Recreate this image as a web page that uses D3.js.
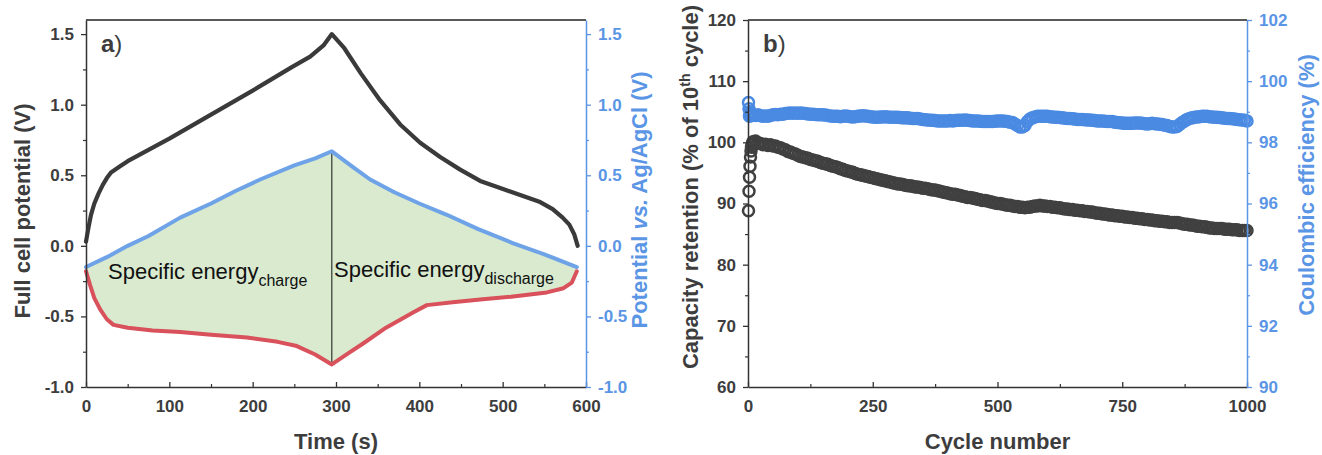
<!DOCTYPE html>
<html>
<head>
<meta charset="utf-8">
<script src="https://cdn.jsdelivr.net/npm/d3@7"></script>
<style>
  body { margin: 0; background: #fff; }
  text { font-family: "Liberation Sans", Arial, Helvetica, sans-serif; }
</style>
</head>
<body>
<svg id="chart" width="1322" height="455"></svg>
<script>
// ---------- Panel a: charge / discharge potential profiles ----------
const timeFull = [0, 3, 6, 10, 15, 20, 25, 30, 40, 50, 75, 100, 150, 200, 248, 269, 285, 295,
                  310, 330, 353, 377, 401, 425, 449, 473, 497, 521, 545, 560, 572, 580, 586, 590];
const vFull    = [0.03, 0.13, 0.22, 0.30, 0.37, 0.43, 0.48, 0.52, 0.56, 0.60, 0.68, 0.76, 0.93, 1.10, 1.27, 1.34, 1.42, 1.50,
                  1.40, 1.22, 1.03, 0.86, 0.73, 0.63, 0.54, 0.46, 0.41, 0.36, 0.31, 0.26, 0.20, 0.15, 0.08, 0.00];

const timePos = [0, 25, 50, 75, 113, 150, 180, 209, 250, 275, 295, 320, 341, 370, 400, 433, 470, 512, 550, 589];
const vPos    = [-0.15, -0.08, 0.00, 0.07, 0.20, 0.30, 0.39, 0.47, 0.57, 0.62, 0.67, 0.56, 0.47, 0.38, 0.30, 0.22, 0.12, 0.02, -0.06, -0.15];

const timeNeg = [0, 5, 10, 17, 25, 33, 50, 80, 113, 150, 193, 230, 253, 275, 295,
                 315, 333, 360, 393, 409, 440, 473, 510, 553, 573, 583, 589];
const vNeg    = [-0.18, -0.28, -0.37, -0.45, -0.52, -0.56, -0.58, -0.60, -0.61, -0.63, -0.65, -0.68, -0.71, -0.77, -0.84,
                 -0.76, -0.69, -0.58, -0.47, -0.42, -0.40, -0.38, -0.36, -0.33, -0.30, -0.26, -0.18];

const switchTime = 295;
const potTicks = [-1.0, -0.5, 0.0, 0.5, 1.0, 1.5];
const potMinor = [-0.75, -0.25, 0.25, 0.75, 1.25];
const timeTicks = [0, 100, 200, 300, 400, 500, 600];
const timeMinor = [50, 150, 250, 350, 450, 550];

// ---------- Panel b: cycling stability ----------
const cycles = [1, 2, 3, 4, 5, 6, 7, 8, 9,
  10, 15, 20, 25, 30, 35, 40, 45, 50, 55, 60, 65, 70, 75, 80, 85, 90, 95, 100,
  105, 110, 115, 120, 125, 130, 135, 140, 145, 150, 155, 160, 165, 170, 175, 180, 185, 190, 195, 200,
  205, 210, 215, 220, 225, 230, 235, 240, 245, 250, 255, 260, 265, 270, 275, 280, 285, 290, 295, 300,
  305, 310, 315, 320, 325, 330, 335, 340, 345, 350, 355, 360, 365, 370, 375, 380, 385, 390, 395, 400,
  405, 410, 415, 420, 425, 430, 435, 440, 445, 450, 455, 460, 465, 470, 475, 480, 485, 490, 495, 500,
  505, 510, 515, 520, 525, 530, 535, 540, 545, 550, 555, 560, 565, 570, 575, 580, 585, 590, 595, 600,
  605, 610, 615, 620, 625, 630, 635, 640, 645, 650, 655, 660, 665, 670, 675, 680, 685, 690, 695, 700,
  705, 710, 715, 720, 725, 730, 735, 740, 745, 750, 755, 760, 765, 770, 775, 780, 785, 790, 795, 800,
  805, 810, 815, 820, 825, 830, 835, 840, 845, 850, 855, 860, 865, 870, 875, 880, 885, 890, 895, 900,
  905, 910, 915, 920, 925, 930, 935, 940, 945, 950, 955, 960, 965, 970, 975, 980, 985, 990, 995, 1000];

const retention = [88.8, 92.0, 94.3, 96.1, 97.6, 98.6, 99.2, 99.6, 99.9,
  100.1, 100.2, 99.9, 99.8, 99.6, 99.7, 99.5, 99.6, 99.4, 99.4, 99.2, 99.1, 98.9, 98.8, 98.5, 98.4, 98.2, 98.1, 97.9,
  97.7, 97.6, 97.5, 97.4, 97.2, 97.1, 97.0, 96.9, 96.7, 96.6, 96.5, 96.4, 96.2, 96.1, 96.0, 95.9, 95.7, 95.6, 95.4, 95.3,
  95.2, 95.1, 94.9, 94.8, 94.7, 94.6, 94.5, 94.4, 94.3, 94.2, 94.1, 94.0, 93.9, 93.8, 93.7, 93.6, 93.5, 93.4, 93.3, 93.2,
  93.2, 93.1, 93.0, 92.9, 92.9, 92.8, 92.7, 92.7, 92.6, 92.5, 92.5, 92.4, 92.3, 92.2, 92.2, 92.1, 92.0, 91.9, 91.8, 91.7,
  91.6, 91.5, 91.5, 91.4, 91.3, 91.2, 91.1, 91.0, 91.0, 90.9, 90.8, 90.7, 90.6, 90.5, 90.5, 90.4, 90.3, 90.2, 90.1, 90.0,
  90.0, 89.9, 89.8, 89.7, 89.7, 89.6, 89.5, 89.5, 89.4, 89.4, 89.3, 89.4, 89.4, 89.5, 89.6, 89.6, 89.7, 89.6, 89.6, 89.5,
  89.5, 89.4, 89.4, 89.3, 89.3, 89.2, 89.1, 89.1, 89.0, 89.0, 88.9, 88.9, 88.8, 88.8, 88.7, 88.7, 88.6, 88.6, 88.5, 88.4,
  88.4, 88.3, 88.3, 88.2, 88.1, 88.1, 88.0, 88.0, 87.9, 87.9, 87.8, 87.8, 87.7, 87.7, 87.6, 87.6, 87.5, 87.5, 87.4, 87.4,
  87.3, 87.3, 87.2, 87.2, 87.1, 87.1, 87.0, 87.0, 86.9, 86.9, 86.9, 86.9, 86.8, 86.7, 86.6, 86.6, 86.5, 86.5, 86.4, 86.3,
  86.3, 86.2, 86.2, 86.1, 86.0, 86.0, 85.9, 85.9, 85.9, 85.9, 85.8, 85.8, 85.8, 85.7, 85.7, 85.7, 85.6, 85.6, 85.6, 85.6];

const efficiency = [99.30, 99.10, 98.85, 99.00, 98.95, 98.90, 98.90, 98.88, 98.90,
  98.90, 98.88, 98.90, 98.87, 98.85, 98.86, 98.85, 98.88, 98.90, 98.91, 98.90, 98.92, 98.92, 98.94, 98.95, 98.96, 98.95, 98.96, 98.95,
  98.96, 98.95, 98.94, 98.93, 98.92, 98.92, 98.91, 98.90, 98.90, 98.90, 98.89, 98.88, 98.86, 98.85, 98.85, 98.85, 98.84, 98.85, 98.86, 98.85,
  98.84, 98.83, 98.84, 98.85, 98.86, 98.87, 98.86, 98.85, 98.84, 98.83, 98.82, 98.82, 98.83, 98.83, 98.84, 98.83, 98.82, 98.82, 98.82, 98.82,
  98.81, 98.80, 98.80, 98.80, 98.79, 98.78, 98.78, 98.78, 98.76, 98.75, 98.74, 98.73, 98.72, 98.72, 98.71, 98.70, 98.70, 98.70, 98.70, 98.70,
  98.71, 98.70, 98.71, 98.72, 98.72, 98.72, 98.73, 98.72, 98.71, 98.70, 98.70, 98.70, 98.69, 98.68, 98.68, 98.68, 98.68, 98.68, 98.69, 98.70,
  98.70, 98.70, 98.69, 98.68, 98.66, 98.65, 98.60, 98.55, 98.50, 98.50, 98.55, 98.68, 98.76, 98.80, 98.83, 98.85, 98.85, 98.85, 98.85, 98.85,
  98.84, 98.83, 98.82, 98.82, 98.81, 98.80, 98.79, 98.78, 98.78, 98.77, 98.76, 98.75, 98.75, 98.75, 98.74, 98.73, 98.73, 98.72, 98.71, 98.70,
  98.70, 98.70, 98.69, 98.68, 98.68, 98.68, 98.66, 98.65, 98.64, 98.63, 98.62, 98.62, 98.62, 98.62, 98.63, 98.63, 98.63, 98.62, 98.61, 98.60,
  98.61, 98.62, 98.61, 98.60, 98.59, 98.58, 98.56, 98.55, 98.52, 98.50, 98.50, 98.52, 98.58, 98.65, 98.70, 98.75, 98.78, 98.80, 98.82, 98.83,
  98.84, 98.85, 98.85, 98.85, 98.84, 98.83, 98.82, 98.82, 98.81, 98.80, 98.79, 98.78, 98.78, 98.77, 98.76, 98.75, 98.74, 98.73, 98.72, 98.70];

const retTicks = [60, 70, 80, 90, 100, 110, 120];
const retMinor = [65, 75, 85, 95, 105, 115];
const ceTicks = [90, 92, 94, 96, 98, 100, 102];
const ceMinor = [91, 93, 95, 97, 99, 101];
const cycleTicks = [0, 250, 500, 750, 1000];
const cycleMinor = [125, 375, 625, 875];

// ---------- styling ----------
const C = {
  text: "#3d3d3d",
  axis: "#333333",
  blueAxis: "#5b95e5",
  full: "#3a3a3a",
  pos: "#6fa3e8",
  neg: "#d8515b",
  fill: "#d9eacf",
  retention: "#404040",
  efficiency: "#4a8ae2"
};
const TICK_FONT = 17, TITLE_FONT = 22;

const svg = d3.select("#chart");

function styleAxis(g, color, fontColor) {
  g.select(".domain").attr("stroke", color).attr("stroke-width", 1.5);
  g.selectAll(".tick line").attr("stroke", color).attr("stroke-width", 1.3);
  g.selectAll(".tick text")
    .attr("fill", fontColor || color)
    .attr("font-size", TICK_FONT)
    .attr("font-weight", "bold")
    .attr("font-family", '"Liberation Sans", Arial, sans-serif');
}

function drawFrame(box, x, y, yR, opt) {
  const { left, right, top, bottom } = box;
  // minor ticks
  svg.append("g").attr("transform", `translate(${left},0)`)
    .call(d3.axisLeft(y).tickValues(opt.yMinor).tickSize(3).tickFormat(""))
    .call(g => { g.select(".domain").remove(); g.selectAll("line").attr("stroke", C.axis).attr("stroke-width", 1.2); });
  svg.append("g").attr("transform", `translate(${right},0)`)
    .call(d3.axisRight(yR).tickValues(opt.yRMinor).tickSize(3).tickFormat(""))
    .call(g => { g.select(".domain").remove(); g.selectAll("line").attr("stroke", C.blueAxis).attr("stroke-width", 1.2); });
  svg.append("g").attr("transform", `translate(0,${bottom})`)
    .call(d3.axisBottom(x).tickValues(opt.xMinor).tickSizeInner(-3).tickSizeOuter(0).tickFormat(""))
    .call(g => { g.select(".domain").remove(); g.selectAll("line").attr("stroke", C.axis).attr("stroke-width", 1.2); });

  // top border
  svg.append("line").attr("x1", left).attr("x2", right).attr("y1", top).attr("y2", top)
    .attr("stroke", "#222").attr("stroke-width", 1.5);

  // major axes
  svg.append("g").attr("transform", `translate(0,${bottom})`)
    .call(d3.axisBottom(x).tickValues(opt.xTicks).tickSizeInner(-5).tickSizeOuter(0).tickPadding(13).tickFormat(opt.xFmt))
    .call(g => styleAxis(g, C.axis, C.text));
  svg.append("g").attr("transform", `translate(${left},0)`)
    .call(d3.axisLeft(y).tickValues(opt.yTicks).tickSize(5).tickSizeOuter(0).tickPadding(7).tickFormat(opt.yFmt))
    .call(g => styleAxis(g, C.axis, C.text));
  svg.append("g").attr("transform", `translate(${right},0)`)
    .call(d3.axisRight(yR).tickValues(opt.yRTicks).tickSize(5).tickSizeOuter(0).tickPadding(7).tickFormat(opt.yRFmt))
    .call(g => styleAxis(g, C.blueAxis, C.blueAxis));
}

function boldTitle(sel, color) {
  return sel.attr("text-anchor", "middle").attr("font-size", TITLE_FONT)
    .attr("font-weight", "bold").attr("fill", color);
}

// ================= Panel a =================
{
  const box = { left: 86, right: 586, top: 20, bottom: 387 };
  const x = d3.scaleLinear().domain([0, 600]).range([box.left, box.right]);
  const y = d3.scaleLinear().domain([-1.0, 1.6]).range([box.bottom, box.top]);
  const yR = d3.scaleLinear().domain([-1.0, 1.6]).range([box.bottom, box.top]);

  const full = timeFull.map((t, i) => [t, vFull[i]]);
  const pos = timePos.map((t, i) => [t, vPos[i]]);
  const neg = timeNeg.map((t, i) => [t, vNeg[i]]);

  const line = d3.line().x(d => x(d[0])).y(d => yR(d[1]));
  const lineL = d3.line().x(d => x(d[0])).y(d => y(d[1]));

  // energy region enclosed by the electrode potentials
  svg.append("path")
    .attr("d", line(pos.concat(neg.slice().reverse())) + "Z")
    .attr("fill", C.fill).attr("stroke", "none");

  // charge/discharge divider
  const iPos = timePos.indexOf(switchTime), iNeg = timeNeg.indexOf(switchTime);
  svg.append("line")
    .attr("x1", x(switchTime)).attr("x2", x(switchTime))
    .attr("y1", yR(vPos[iPos])).attr("y2", yR(vNeg[iNeg]))
    .attr("stroke", "#111").attr("stroke-width", 1);

  // labels inside the region
  const t1 = svg.append("text").attr("x", 108).attr("y", 279).attr("font-size", 22).attr("fill", "#111");
  t1.append("tspan").text("Specific energy");
  t1.append("tspan").attr("font-size", 16).attr("dy", 7).text("charge");
  const t2 = svg.append("text").attr("x", 334).attr("y", 277).attr("font-size", 22).attr("fill", "#111");
  t2.append("tspan").text("Specific energy");
  t2.append("tspan").attr("font-size", 16).attr("dy", 7).text("discharge");

  svg.append("path").attr("d", line(neg)).attr("fill", "none")
    .attr("stroke", C.neg).attr("stroke-width", 4).attr("stroke-linejoin", "round").attr("stroke-linecap", "round");
  svg.append("path").attr("d", line(pos)).attr("fill", "none")
    .attr("stroke", C.pos).attr("stroke-width", 4).attr("stroke-linejoin", "round").attr("stroke-linecap", "round");
  svg.append("path").attr("d", lineL(full)).attr("fill", "none")
    .attr("stroke", C.full).attr("stroke-width", 4.2).attr("stroke-linejoin", "round").attr("stroke-linecap", "round");

  const f1 = d => d.toFixed(1);
  drawFrame(box, x, y, yR, {
    xTicks: timeTicks, xMinor: timeMinor, yTicks: potTicks, yMinor: potMinor,
    yRTicks: potTicks, yRMinor: potMinor, xFmt: d => d, yFmt: f1, yRFmt: f1
  });

  // panel tag
  const tag = svg.append("text").attr("x", 101).attr("y", 52).attr("font-size", 24).attr("fill", C.text);
  tag.append("tspan").attr("font-weight", "bold").text("a");
  tag.append("tspan").text(")");

  // axis titles
  boldTitle(svg.append("text").attr("transform", "translate(30,211) rotate(-90)"), C.text)
    .text("Full cell potential (V)");
  boldTitle(svg.append("text").attr("x", (box.left + box.right) / 2).attr("y", 449), C.text)
    .text("Time (s)");
  const rt = boldTitle(svg.append("text").attr("transform", "translate(647,200) rotate(-90)"), C.blueAxis);
  rt.append("tspan").text("Potential ");
  rt.append("tspan").attr("font-style", "italic").text("vs.");
  rt.append("tspan").text(" Ag/AgCl (V)");
}

// ================= Panel b =================
{
  const box = { left: 748, right: 1247, top: 20, bottom: 387 };
  const x = d3.scaleLinear().domain([0, 1000]).range([box.left, box.right]);
  const y = d3.scaleLinear().domain([60, 120]).range([box.bottom, box.top]);
  const yR = d3.scaleLinear().domain([90, 102]).range([box.bottom, box.top]);

  svg.append("g").selectAll("circle").data(cycles).join("circle")
    .attr("cx", d => x(d)).attr("cy", (d, i) => y(retention[i])).attr("r", 5.5)
    .attr("fill", "none").attr("stroke", C.retention).attr("stroke-width", 2.5);
  svg.append("g").selectAll("circle").data(cycles).join("circle")
    .attr("cx", d => x(d)).attr("cy", (d, i) => yR(efficiency[i])).attr("r", 5.5)
    .attr("fill", "none").attr("stroke", C.efficiency).attr("stroke-width", 2.5);

  drawFrame(box, x, y, yR, {
    xTicks: cycleTicks, xMinor: cycleMinor, yTicks: retTicks, yMinor: retMinor,
    yRTicks: ceTicks, yRMinor: ceMinor, xFmt: d => d, yFmt: d => d, yRFmt: d => d
  });

  const tag = svg.append("text").attr("x", 763).attr("y", 52).attr("font-size", 24).attr("fill", C.text);
  tag.append("tspan").attr("font-weight", "bold").text("b");
  tag.append("tspan").text(")");

  const lt = boldTitle(svg.append("text").attr("transform", "translate(698,187) rotate(-90)"), C.text);
  lt.append("tspan").text("Capacity retention (% of 10");
  lt.append("tspan").attr("font-size", 14).attr("dy", -8).text("th");
  lt.append("tspan").attr("dy", 8).text(" cycle)");

  boldTitle(svg.append("text").attr("x", (box.left + box.right) / 2).attr("y", 449), C.text)
    .text("Cycle number");
  boldTitle(svg.append("text").attr("transform", "translate(1314,185) rotate(-90)"), C.blueAxis)
    .text("Coulombic efficiency (%)");
}
</script>
</body>
</html>
